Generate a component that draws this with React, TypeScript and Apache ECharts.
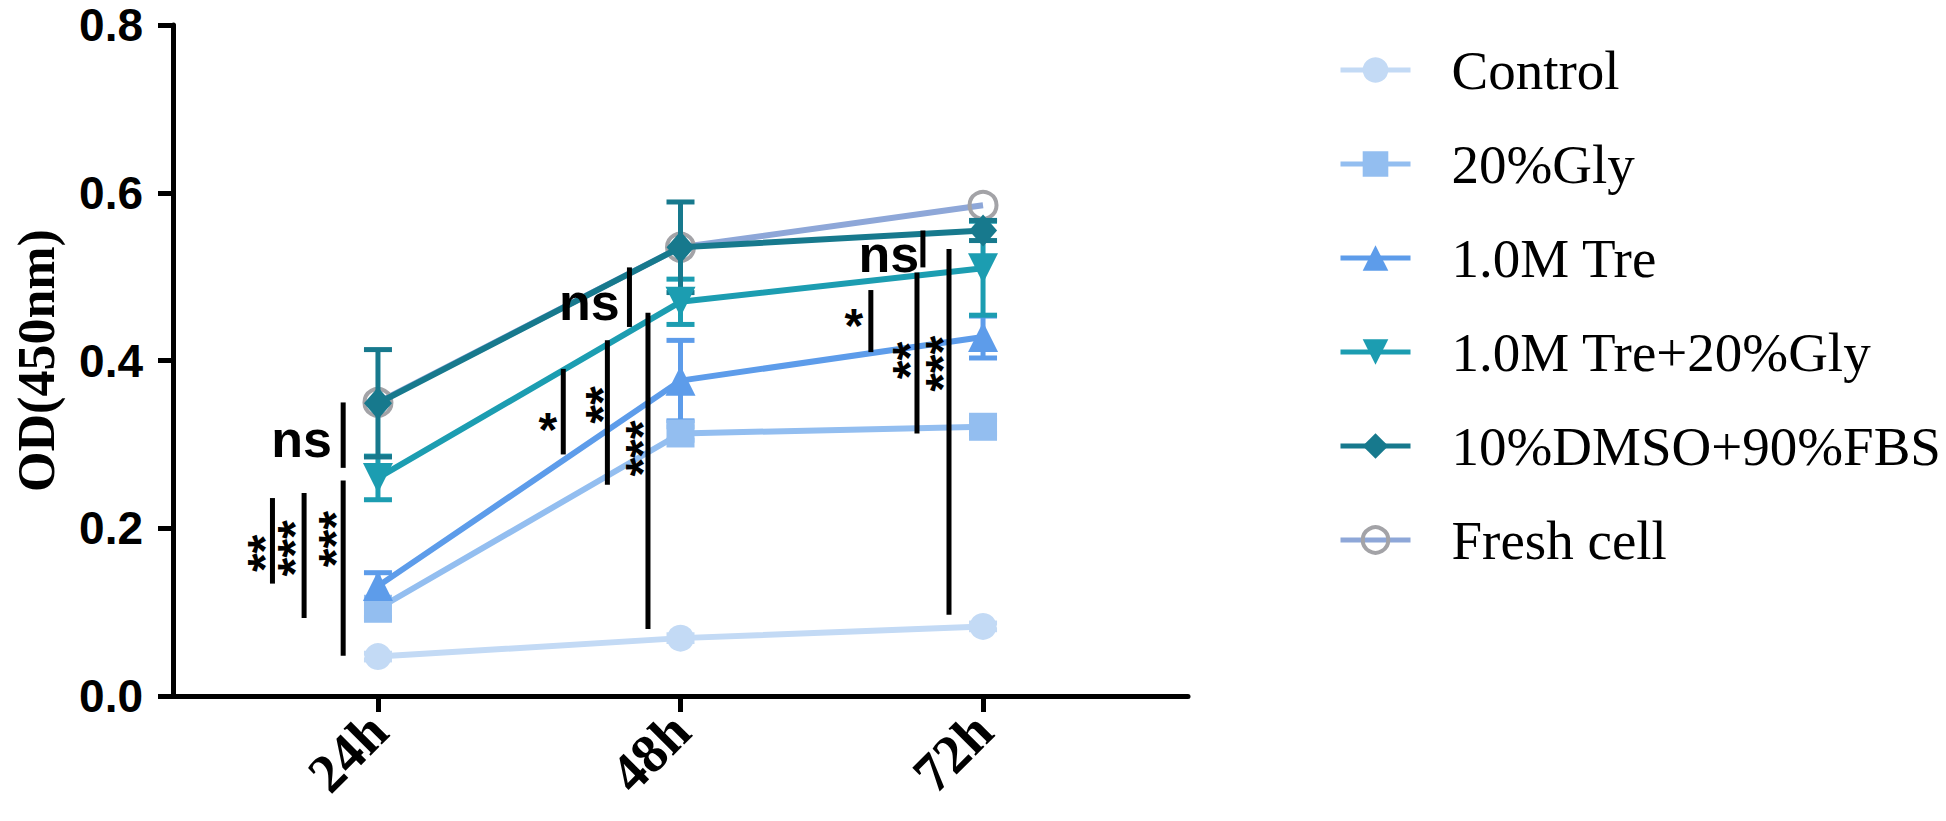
import { useEffect, useRef } from 'react';
import * as echarts from 'echarts';

// ---------- data ----------
const categories = ['24h', '48h', '72h'];
const hours = [24, 48, 72];
const seriesNames = ['Control', '20%Gly', '1.0M Tre', '1.0M Tre+20%Gly', '10%DMSO+90%FBS', 'Fresh cell'];

const control = [0.047, 0.069, 0.083];
const controlErr = [0.004, 0.004, 0.004];
const gly = [0.104, 0.313, 0.321];
const glyErr = [0.01, 0.008, 0.008];
const tre = [0.131, 0.376, 0.428];
const treErr = [0.016, 0.048, 0.025];
const treGly = [0.26, 0.47, 0.51];
const treGlyErr = [0.026, 0.027, 0.056];
const dmso = [0.349, 0.535, 0.555];
const dmsoErr = [0.064, 0.054, 0.012];
const fresh = [0.35, 0.535, 0.585];
const freshErr = [0, 0, 0];

const yTicks = [0, 0.2, 0.4, 0.6, 0.8];
const xRange = [7.74, 88.26];

// significance brackets: [x (h), low, high]
const sigBars = [
  [15.63, 0.134, 0.236],
  [18.14, 0.093, 0.242],
  [21.24, 0.048, 0.257],
  [21.24, 0.272, 0.35],
  [38.7, 0.288, 0.39],
  [42.2, 0.252, 0.424],
  [45.42, 0.08, 0.457],
  [43.95, 0.44, 0.511],
  [63.1, 0.41, 0.484],
  [66.76, 0.313, 0.505],
  [69.3, 0.097, 0.533],
  [67.23, 0.511, 0.555],
];
// significance labels: [x (h), y]
const sigLabelPos = [
  [15.0, 0.17],
  [17.4, 0.176],
  [20.6, 0.187],
  [17.94, 0.307],
  [37.47, 0.318],
  [41.8, 0.347],
  [45.0, 0.295],
  [40.77, 0.47],
  [61.75, 0.442],
  [66.2, 0.4],
  [68.8, 0.396],
  [64.53, 0.527],
];
const sigLabelText = ['**', '***', '***', 'ns', '*', '**', '***', 'ns', '*', '**', '***', 'ns'];

// ---------- styles ----------
const colors = ['#c3daf5', '#93bef0', '#5d9cea', '#1c9db1', '#17798d', '#8ea7d8'];
const symbols = ['circle', 'rect', 'triangle', 'triangle', 'diamond', 'circle'];
const symbolRot = [0, 0, 0, 180, 0, 0];

export default function App() {
  const ref = useRef<HTMLDivElement>(null);

  useEffect(() => {
    if (!ref.current) return;
    const chart = echarts.init(ref.current, null, { renderer: 'svg' });

    const values = [control, gly, tre, treGly, dmso, fresh];
    const errs = [controlErr, glyErr, treErr, treGlyErr, dmsoErr, freshErr];

    const errData: number[][] = [];
    values.forEach((vals, si) => {
      vals.forEach((v, i) => {
        if (errs[si][i] > 0) errData.push([hours[i], v - errs[si][i], v + errs[si][i], si]);
      });
    });

    const lineSeries = values.map((vals, si) => {
      const isFresh = si === 5;
      return {
        type: 'line',
        name: seriesNames[si],
        data: vals.map((v, i) => [hours[i], v]),
        symbol: symbols[si],
        symbolRotate: symbolRot[si],
        symbolSize: si === 4 ? [28, 32] : si === 2 || si === 3 ? 30 : si === 1 ? 28 : 27,
        z: isFresh ? 1 : 3 + si * 0.01,
        lineStyle: { color: colors[si], width: 6 },
        itemStyle: isFresh
          ? { color: 'rgba(255,255,255,0)', borderColor: '#a3a3a7', borderWidth: 4 }
          : { color: colors[si] },
        emphasis: { disabled: true },
      };
    });

    const option: any = {
      animation: false,
      backgroundColor: '#ffffff',
      grid: { left: 173, right: 758, top: 25, bottom: 125 },
      xAxis: {
        type: 'value',
        min: xRange[0],
        max: xRange[1],
        splitLine: { show: false },
        axisLine: { lineStyle: { color: '#000', width: 5 } },
        axisTick: { customValues: hours, length: 16, lineStyle: { color: '#000', width: 5 } },
        axisLabel: {
          customValues: hours,
          formatter: (v: number) => categories[hours.indexOf(v)],
          rotate: 45,
          margin: 26,
          color: '#000',
          fontFamily: 'Liberation Serif',
          fontWeight: 'bold',
          fontSize: 55,
        },
      },
      yAxis: {
        type: 'value',
        min: yTicks[0],
        max: yTicks[yTicks.length - 1],
        interval: 0.2,
        name: 'OD(450nm)',
        nameLocation: 'middle',
        nameGap: 111,
        nameTextStyle: { fontFamily: 'Liberation Serif', fontWeight: 'bold', fontSize: 52, color: '#000' },
        splitLine: { show: false },
        axisLine: { show: true, lineStyle: { color: '#000', width: 5 } },
        axisTick: { show: true, length: 15, lineStyle: { color: '#000', width: 5 } },
        axisLabel: {
          formatter: (v: number) => v.toFixed(1),
          margin: 30,
          color: '#000',
          fontFamily: 'Liberation Sans',
          fontWeight: 'bold',
          fontSize: 46,
        },
      },
      legend: {
        orient: 'vertical',
        left: 1333,
        top: 37,
        itemWidth: 70,
        itemHeight: 32,
        itemGap: 38,
        data: seriesNames.map((n, i) =>
          i === 5 ? { name: n, itemStyle: { borderWidth: 4, borderColor: '#a3a3a7' } } : { name: n }
        ),
        lineStyle: { width: 5 },
        selectedMode: false,
        textStyle: {
          fontFamily: 'Liberation Serif',
          fontSize: 55,
          lineHeight: 56,
          color: '#000',
          padding: [0, 0, 0, 36],
        },
      },
      series: [
        {
          type: 'custom',
          name: 'errorbars',
          z: 2,
          data: errData,
          encode: { x: 0, y: [1, 2] },
          renderItem: (params: any, api: any) => {
            const x = api.value(0);
            const lo = api.coord([x, api.value(1)]);
            const hi = api.coord([x, api.value(2)]);
            const c = colors[api.value(3)];
            const w = 14;
            const st = { stroke: c, lineWidth: 5 };
            return {
              type: 'group',
              children: [
                { type: 'line', shape: { x1: lo[0], y1: lo[1], x2: hi[0], y2: hi[1] }, style: st },
                { type: 'line', shape: { x1: lo[0] - w, y1: lo[1], x2: lo[0] + w, y2: lo[1] }, style: st },
                { type: 'line', shape: { x1: hi[0] - w, y1: hi[1], x2: hi[0] + w, y2: hi[1] }, style: st },
              ],
            };
          },
        },
        ...lineSeries,
        {
          type: 'custom',
          name: 'sigbars',
          z: 5,
          data: sigBars,
          encode: { x: 0, y: [1, 2] },
          renderItem: (params: any, api: any) => {
            const x = api.value(0);
            const lo = api.coord([x, api.value(1)]);
            const hi = api.coord([x, api.value(2)]);
            return {
              type: 'line',
              shape: { x1: lo[0], y1: lo[1], x2: hi[0], y2: hi[1] },
              style: { stroke: '#000', lineWidth: 5 },
            };
          },
        },
        {
          type: 'custom',
          name: 'siglabels',
          z: 6,
          data: sigLabelPos,
          encode: { x: 0, y: 1 },
          renderItem: (params: any, api: any) => {
            const p = api.coord([api.value(0), api.value(1)]);
            const t = sigLabelText[params.dataIndex];
            const isNs = t === 'ns';
            const isStars = t.length > 1 && !isNs;
            return {
              type: 'text',
              x: p[0],
              y: p[1],
              rotation: isStars ? Math.PI / 2 : 0,
              style: {
                text: t,
                fill: '#000',
                fontFamily: 'Liberation Sans',
                fontWeight: 'bold',
                fontSize: isNs ? 52 : 48,
                align: 'center',
                verticalAlign: 'middle',
              },
            };
          },
        },
      ],
    };

    chart.setOption(option);
    return () => chart.dispose();
  }, []);

  return (
    <div
      ref={ref}
      style={{ position: 'absolute', left: 0, top: 0, width: 1946, height: 821, background: '#fff' }}
    />
  );
}
